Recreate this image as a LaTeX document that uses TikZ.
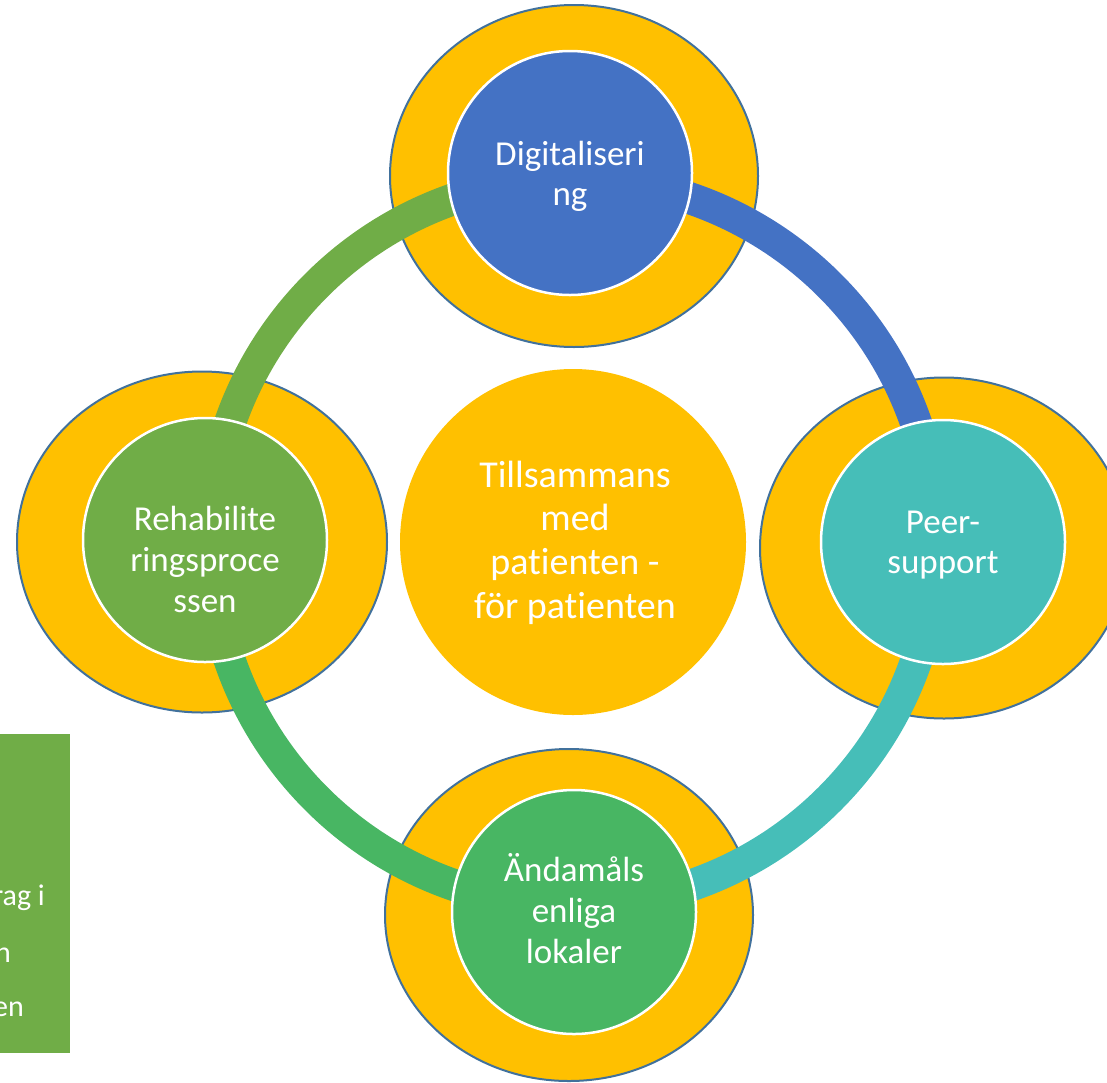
\documentclass[tikz,border=0pt]{standalone}
\usepackage{fontspec}
\setmainfont{Carlito}[Ligatures=NoCommon]
\usetikzlibrary{shapes.geometric}
\definecolor{gold}{HTML}{FFC000}
\definecolor{outl}{HTML}{41719C}
\definecolor{cblue}{HTML}{4472C4}
\definecolor{cgreen}{HTML}{70AD47}
\definecolor{cteal}{HTML}{46BEB8}
\definecolor{cmid}{HTML}{48B663}
\begin{document}
\begin{tikzpicture}[x=1pt,y=-1pt,
  halo/.style={ellipse, fill=gold, draw=outl, line width=2pt, inner sep=0pt},
  core/.style={circle, draw=white, line width=2.5pt, inner sep=0pt, minimum size=244pt},
  ringarc/.style={line width=32pt},
  lbl/.style={anchor=base, inner sep=0pt, text=white, font=\fontsize{35}{40}\selectfont},
  sidetxt/.style={anchor=base east, inner sep=0pt, text=white, font=\fontsize{30}{36}\selectfont}]
\useasboundingbox (0,0) rectangle (1107,1082);
\clip (0,0) rectangle (1107,1082);
% side panel
\node[fill=cgreen, inner sep=0pt, minimum width=70pt, minimum height=319pt, anchor=north west] (panel) at (0,734) {};
\node[sidetxt] (s1) at (45,905) {rag i};
\node[sidetxt] (s2) at (11,962) {n};
\node[sidetxt] (s3) at (24,1016) {en};
% halos
\node[halo, minimum width=368pt, minimum height=342pt] (ht) at (574,176) {};
\node[halo, minimum width=368pt, minimum height=341pt] (hr) at (944,548) {};
\node[halo, minimum width=368pt, minimum height=332pt] (hb) at (569,915) {};
\node[halo, minimum width=370pt, minimum height=341pt] (hl) at (202,542) {};
% hub
\node[circle, fill=gold, inner sep=0pt, minimum size=346pt] (hub) at (573,542) {};
% ring arcs
\draw[ringarc, cblue]  (hub.center) ++(-90:363) arc[start angle=-90, end angle=0, radius=363];
\draw[ringarc, cteal]  (hub.center) ++(0:363) arc[start angle=0, end angle=90, radius=363];
\draw[ringarc, cmid]   (hub.center) ++(90:363) arc[start angle=90, end angle=180, radius=363];
\draw[ringarc, cgreen] (hub.center) ++(180:363) arc[start angle=180, end angle=270, radius=363];
% cores
\node[core, fill=cblue]  (ct) at (570,173) {};
\node[core, fill=cteal]  (cr) at (943,542) {};
\node[core, fill=cmid]   (cb) at (574,912) {};
\node[core, fill=cgreen] (cl) at (205,540) {};
% labels
\node[lbl] (lt) at (570,165) {\parbox[t]{300pt}{\centering Digitaliseri\\ng}};
\node[lbl] (lr) at (943,533) {\parbox[t]{300pt}{\centering Peer-\\support}};
\node[lbl, font=\fontsize{35}{41}\selectfont] (lb) at (574,881) {\parbox[t]{300pt}{\centering Ändamåls\\enliga\\lokaler}};
\node[lbl, font=\fontsize{35}{41}\selectfont] (ll) at (205,530) {\parbox[t]{300pt}{\centering Rehabilite\\ringsproce\\ssen}};
\node[lbl, font=\fontsize{38}{43.7}\selectfont] (lh) at (575,487) {\parbox[t]{340pt}{\centering Tillsammans\\med\\patienten -\\för patienten}};
\end{tikzpicture}
\end{document}
